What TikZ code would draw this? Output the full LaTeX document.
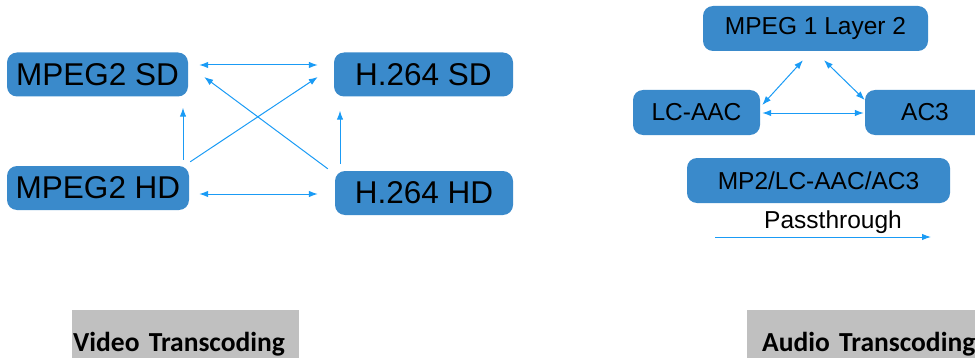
\documentclass[tikz,border=0pt]{standalone}
\usepackage{fontspec}
\setmainfont{Liberation Sans}
\newfontfamily\labelfont{Carlito}
\newcommand\tightspace{\spaceskip=4.5pt\relax}
\usetikzlibrary{arrows.meta, positioning}
\definecolor{boxblue}{RGB}{58,138,203}
\definecolor{arrowblue}{RGB}{26,155,245}
\definecolor{labelgray}{RGB}{192,192,192}

\begin{document}
\begin{tikzpicture}[x=1pt, y=-1pt]
\tikzstyle{codec} = [rectangle, rounded corners=10pt, fill=boxblue, text=black, inner sep=0pt, minimum height=44pt]
\tikzstyle{vcodec} = [codec, font=\fontsize{31.5}{35}\selectfont]
\tikzstyle{acodec} = [codec, font=\fontsize{24.5}{28}\selectfont]
\tikzstyle{conv} = [arrowblue, line width=1pt, -{Latex[length=9pt, width=6.5pt]}]
\tikzstyle{both} = [conv, {Latex[length=9pt, width=6.5pt]}-{Latex[length=9pt, width=6.5pt]}]
\tikzstyle{section} = [fill=labelgray, inner ysep=0pt, text height=41pt, text depth=7pt, align=left, anchor=north west, font=\labelfont\bfseries\fontsize{27.5}{30}\selectfont\tightspace]
\useasboundingbox (0,0) rectangle (975,361);
  % video
  \node[vcodec, minimum width=181pt] (m2sd) at (97.5,74.5) {MPEG2 SD};
  \node[vcodec, minimum width=179pt] (h4sd) at (423.5,74.5) {H.264 SD};
  \node[vcodec, minimum width=182pt] (m2hd) at (98,188) {MPEG2 HD};
  \node[vcodec, minimum width=178pt] (h4hd) at (424,193) {H.264 HD};
  % audio
  \node[acodec, minimum width=225pt, minimum height=45pt] (mp1) at (815.5,28.5) {MPEG 1 Layer 2};
  \node[acodec, minimum width=127pt, minimum height=45pt] (lcaac) at (696.5,112.5) {LC-AAC};
  \node[acodec, minimum width=120pt, minimum height=45pt] (ac3) at (925,112.5) {AC3};
  \node[acodec, minimum width=263pt, minimum height=45pt] (pass) at (818.5,180.5) {MP2/LC-AAC/AC3};
  \node[font=\fontsize{24.5}{28}\selectfont, inner sep=0pt] (passlbl) at (833,222) {Passthrough};
  % section labels
  \node[section, inner xsep=1pt, text width=225pt] (video) at (72,310) {Video Transcoding};
  \node[section, inner xsep=15pt, text width=260pt] (audio) at (747,310) {Audio Transcoding};

\draw[both] ([shift={(11,-9.5)}]m2sd.east) -- ([shift={(-16,-9.5)}]h4sd.west);
\draw[both] ([shift={(10,6)}]m2hd.east) -- ([shift={(-17,1)}]h4hd.west);
\draw[conv] ([shift={(85,-6)}]m2hd.north) -- ([shift={(85.5,11)}]m2sd.south);
\draw[conv] ([shift={(-84,-7)}]h4hd.north) -- ([shift={(-83.5,14)}]h4sd.south);
\draw[conv] ([shift={(1,-4)}]m2hd.north east) -- ([shift={(-16,2.5)}]h4sd.west);
\draw[conv] ([shift={(-7,-2)}]h4hd.north west) -- ([shift={(16,2.5)}]m2sd.east);
\draw[both] ([shift={(-12.5,9)}]mp1.south) -- ([shift={(2,-7.5)}]lcaac.east);
\draw[both] ([shift={(8.5,9)}]mp1.south) -- ([shift={(0,-12.5)}]ac3.west);
\draw[both] ([shift={(2,0.5)}]lcaac.east) -- ([shift={(-1,0.5)}]ac3.west);
\draw[conv] ([shift={(-118,15)}]passlbl.center) -- ([shift={(98,15)}]passlbl.center);
\end{tikzpicture}
\end{document}
